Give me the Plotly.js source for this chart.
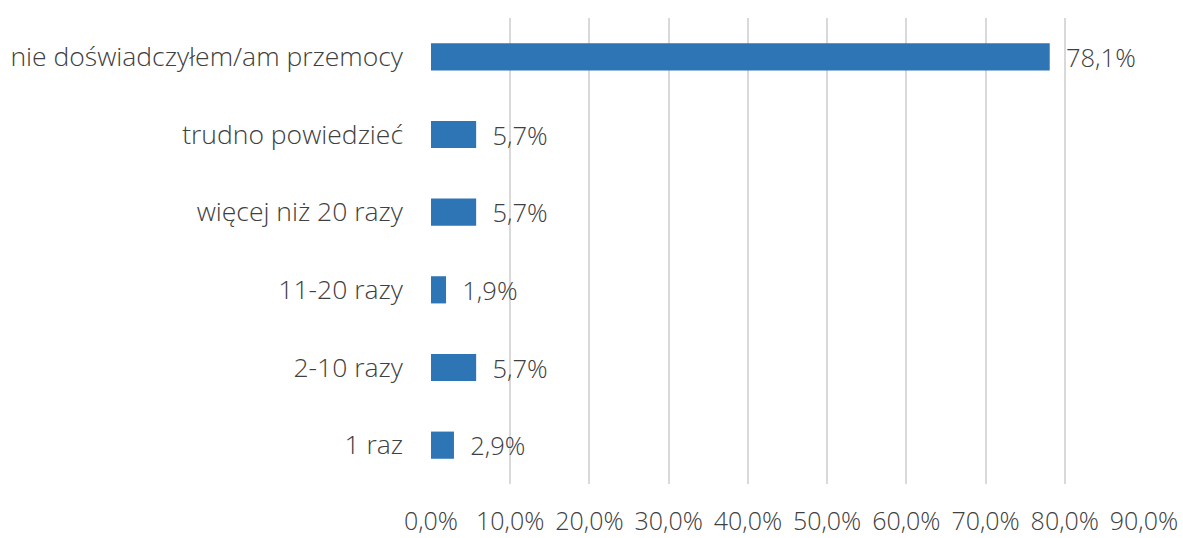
<!DOCTYPE html>
<html>
<head>
<meta charset="utf-8">
<script src="https://cdn.plot.ly/plotly-3.0.1.min.js"></script>
<style>html,body{margin:0;padding:0;background:#fff;}#chart{width:1183px;height:538px;}</style>
</head>
<body>
<div id="chart"></div>
<script>
const categories = ["1 raz", "2-10 razy", "11-20 razy", "więcej niż 20 razy", "trudno powiedzieć", "nie doświadczyłem/am przemocy"];
const values = [2.9, 5.7, 1.9, 5.7, 5.7, 78.1];
const tickValues = [0, 10, 20, 30, 40, 50, 60, 70, 80, 90];
const tickLabels = ["0,0%", "10,0%", "20,0%", "30,0%", "40,0%", "50,0%", "60,0%", "70,0%", "80,0%", "90,0%"];

const fontFamily = "Open Sans, Noto Sans, sans-serif";
const fontSize = 25.5;
const trace = {
  type: "bar",
  orientation: "h",
  y: categories,
  x: values,
  marker: {color: "#2E75B6"},
  text: values.map(v => "\u00a0\u00a0" + v.toFixed(1).replace(".", ",") + "%"),
  textposition: "outside",
  constraintext: "none",
  textfont: {family: fontFamily, size: fontSize, color: "#404040", weight: 300},
  cliponaxis: false,
  hoverinfo: "none"
};
const layout = {
  width: 1183, height: 538,
  margin: {l: 431, r: 39, t: 18, b: 54},
  paper_bgcolor: "#ffffff", plot_bgcolor: "#ffffff",
  bargap: 0.65,
  showlegend: false,
  font: {family: fontFamily, size: fontSize, color: "#404040", weight: 300},
  xaxis: {
    range: [0, 90],
    tickvals: tickValues,
    ticktext: tickLabels,
    showgrid: true, gridcolor: "#d9d9d9", gridwidth: 2,
    zeroline: false, showline: false,
    ticks: "", ticklabelstandoff: 20,
    tickfont: {family: fontFamily, size: 25, color: "#404040", weight: 300},
    fixedrange: true
  },
  yaxis: {
    showgrid: false, zeroline: false, showline: false,
    ticks: "", ticklabelstandoff: 27,
    tickfont: {family: fontFamily, size: 26.5, color: "#404040", weight: 300},
    fixedrange: true
  }
};
Plotly.newPlot("chart", [trace], layout, {staticPlot: true, displayModeBar: false});
</script>
</body>
</html>
